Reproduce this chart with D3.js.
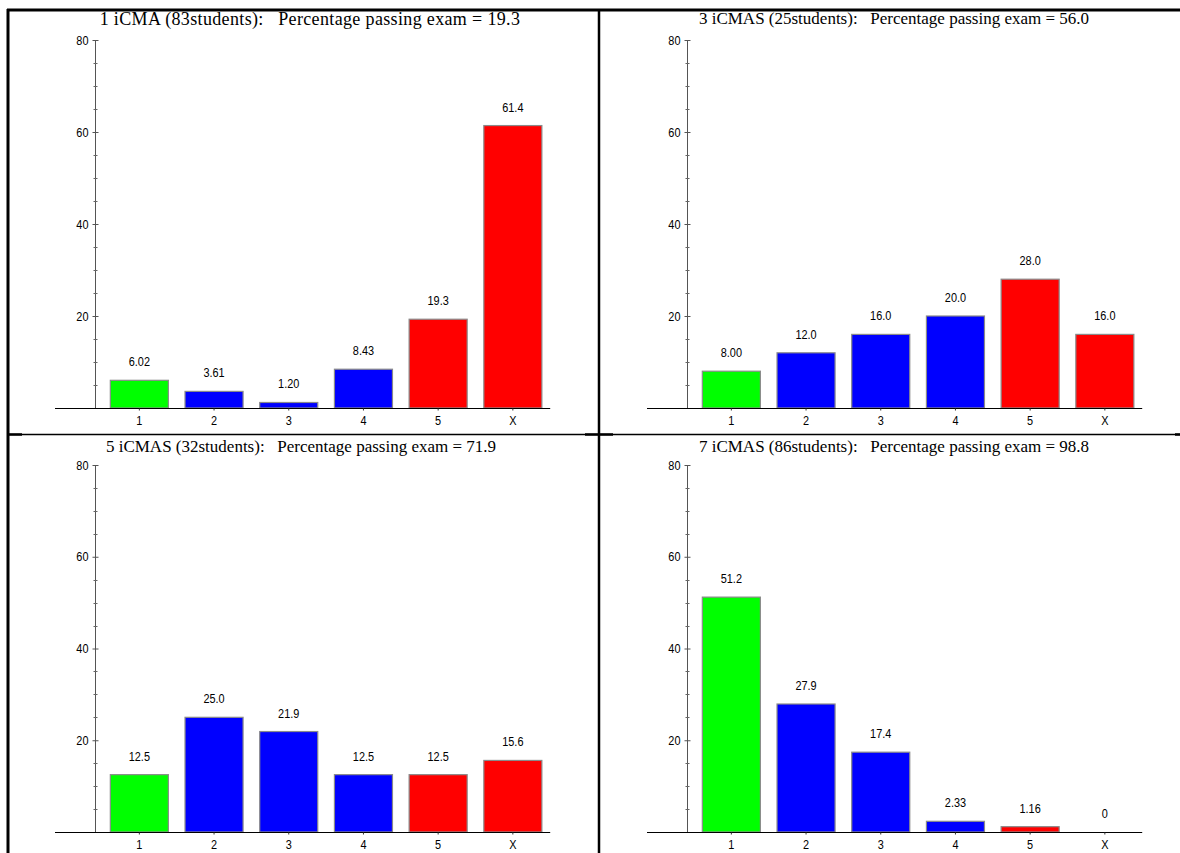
<!DOCTYPE html>
<html>
<head>
<meta charset="utf-8">
<script src="https://cdn.jsdelivr.net/npm/d3@7/dist/d3.min.js"></script>
<style>
  html, body { margin: 0; padding: 0; background: #fff; }
  svg { display: block; }
  .num { font-family: "Liberation Sans", Arial, sans-serif; font-size: 13px; fill: #000; }
  .title { font-family: "Liberation Serif", "Times New Roman", serif; font-size: 17px; fill: #000; white-space: pre; }
</style>
</head>
<body>
<svg id="chart" width="1180" height="853"></svg>
<script>
// ---- data ----
const categories = ["1", "2", "3", "4", "5", "X"];
const panelTitles = [
  "1 iCMA (83students):   Percentage passing exam = 19.3",
  "3 iCMAS (25students):   Percentage passing exam = 56.0",
  "5 iCMAS (32students):   Percentage passing exam = 71.9",
  "7 iCMAS (86students):   Percentage passing exam = 98.8"
];
const values1 = [6.02, 3.61, 1.20, 8.43, 19.3, 61.4];
const values3 = [8.00, 12.0, 16.0, 20.0, 28.0, 16.0];
const values5 = [12.5, 25.0, 21.9, 12.5, 12.5, 15.6];
const values7 = [51.2, 27.9, 17.4, 2.33, 1.16, 0];
const barColors = ["#00ff00", "#0000ff", "#0000ff", "#0000ff", "#ff0000", "#ff0000"];
const yTickValues = [20, 40, 60, 80];
const yMinorTickValues = [5, 10, 15, 25, 30, 35, 45, 50, 55, 65, 70, 75];
const yDomain = [0, 80];

const seriesList = [values1, values3, values5, values7];

// ---- layout ----
const svg = d3.select("#chart");
const panels = [
  { axisX: 95,  y0: 408, y80: 40,  titleY: 25,  titleDX: 215, titleSize: 18, titleSpacing: 0.35 },
  { axisX: 687, y0: 408, y80: 40,  titleY: 24,  titleDX: 207, titleSize: 17, titleSpacing: 0 },
  { axisX: 95,  y0: 832, y80: 465, titleY: 452, titleDX: 206, titleSize: 17, titleSpacing: 0 },
  { axisX: 687, y0: 832, y80: 465, titleY: 452, titleDX: 207, titleSize: 17, titleSpacing: 0 }
];
const SX = 0.84; // horizontal squeeze for the narrow numeric font
const fmt = v => v === 0 ? "0" : d3.format(".3r")(v);

// squeeze a text element horizontally around its anchor x
function narrow(sel) {
  sel.each(function () {
    const t = d3.select(this);
    const xv = +t.attr("x") || 0;
    const prev = t.attr("transform") || "";
    t.attr("x", xv / SX).attr("transform", prev + ` scale(${SX},1)`);
  });
}

panels.forEach((p, i) => {
  const vals = seriesList[i];
  const g = svg.append("g");
  const y = d3.scaleLinear().domain(yDomain).range([p.y0, p.y80]);
  const x = d3.scaleBand().domain(categories)
    .range([p.axisX + 7, p.axisX + 7 + 6 * 74.7])
    .paddingInner(0.223).paddingOuter(0.1115);

  // bars
  g.selectAll("rect.bar").data(vals).enter().append("rect")
    .attr("class", "bar")
    .attr("x", (d, j) => x(categories[j]))
    .attr("width", x.bandwidth())
    .attr("y", d => y(d))
    .attr("height", d => y(0) - y(d))
    .attr("fill", (d, j) => barColors[j])
    .attr("stroke", "#8a8a8a")
    .attr("stroke-width", 1.2);

  // value labels
  g.selectAll("text.val").data(vals).enter().append("text")
    .attr("class", "num val")
    .attr("x", (d, j) => x(categories[j]) + x.bandwidth() / 2)
    .attr("y", d => y(d) - 14)
    .attr("text-anchor", "middle")
    .text(d => fmt(d))
    .call(narrow);

  // x baseline
  g.append("line")
    .attr("x1", p.axisX - 40).attr("x2", x.range()[1])
    .attr("y1", p.y0 + 0.5).attr("y2", p.y0 + 0.5)
    .attr("stroke", "#000").attr("stroke-width", 1.2);

  // x ticks & labels
  const xAxis = d3.axisBottom(x).tickSize(2).tickPadding(5).tickSizeOuter(0);
  const xg = g.append("g").attr("transform", `translate(0,${p.y0 + 0.5})`).call(xAxis);
  xg.select(".domain").remove();
  xg.selectAll(".tick line").attr("stroke", "#333");
  xg.selectAll(".tick text").attr("class", "num").attr("font-family", null).attr("font-size", null)
    .attr("x", 0).call(narrow);

  // y axis line
  g.append("line")
    .attr("x1", p.axisX + 0.5).attr("x2", p.axisX + 0.5)
    .attr("y1", y(0)).attr("y2", y(80))
    .attr("stroke", "#555").attr("stroke-width", 1);

  // y major ticks
  const yAxis = d3.axisLeft(y).tickValues(yTickValues).tickSize(3).tickPadding(4).tickSizeOuter(0);
  const yg = g.append("g").attr("transform", `translate(${p.axisX + 0.5},0)`).call(yAxis);
  yg.select(".domain").remove();
  yg.selectAll(".tick line").attr("x2", 3).attr("x1", -3).attr("stroke", "#555");
  yg.selectAll(".tick text").attr("class", "num").attr("font-family", null).attr("font-size", null)
    .call(narrow);

  // y minor ticks
  g.selectAll("line.minor").data(yMinorTickValues).enter().append("line")
    .attr("x1", p.axisX - 1.5).attr("x2", p.axisX + 2.5)
    .attr("y1", d => Math.round(y(d)) + 0.5).attr("y2", d => Math.round(y(d)) + 0.5)
    .attr("stroke", "#666").attr("stroke-width", 1);

  // title
  g.append("text")
    .attr("class", "title")
    .attr("x", p.axisX + p.titleDX)
    .attr("y", p.titleY)
    .attr("text-anchor", "middle")
    .style("font-size", p.titleSize + "px")
    .style("letter-spacing", p.titleSpacing + "px")
    .attr("xml:space", "preserve")
    .text(panelTitles[i]);
});

// frame lines
svg.append("line").attr("x1", 7).attr("x2", 1180).attr("y1", 10).attr("y2", 10).attr("stroke", "#000").attr("stroke-width", 3);
svg.append("line").attr("x1", 8).attr("x2", 8).attr("y1", 9).attr("y2", 853).attr("stroke", "#000").attr("stroke-width", 3);
svg.append("line").attr("x1", 599).attr("x2", 599).attr("y1", 9).attr("y2", 853).attr("stroke", "#000").attr("stroke-width", 2.5);
svg.append("line").attr("x1", 7).attr("x2", 1180).attr("y1", 434.5).attr("y2", 434.5).attr("stroke", "#000").attr("stroke-width", 1.5);
svg.append("line").attr("x1", 8).attr("x2", 22).attr("y1", 434.5).attr("y2", 434.5).attr("stroke", "#000").attr("stroke-width", 2.5);
svg.append("line").attr("x1", 585).attr("x2", 613).attr("y1", 434.5).attr("y2", 434.5).attr("stroke", "#000").attr("stroke-width", 2.5);
svg.append("line").attr("x1", 1175).attr("x2", 1180).attr("y1", 434.5).attr("y2", 434.5).attr("stroke", "#000").attr("stroke-width", 2.5);
</script>
</body>
</html>
